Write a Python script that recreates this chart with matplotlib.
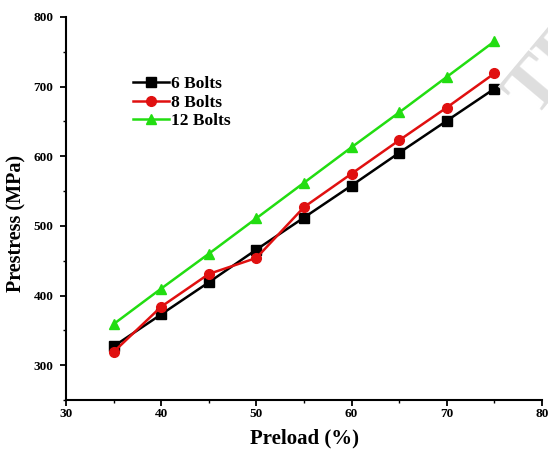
import numpy as np
import matplotlib
matplotlib.use("Agg")
import matplotlib.pyplot as plt
from matplotlib.ticker import MultipleLocator

preload = [35, 40, 45, 50, 55, 60, 65, 70, 75]
bolts6 = [327, 373, 419, 466, 512, 558, 605, 651, 697]
bolts8 = [319, 384, 431, 454, 527, 575, 623, 670, 719]
bolts12 = [359, 410, 460, 511, 562, 613, 663, 714, 765]

plt.rcParams["font.family"] = ["Liberation Serif", "DejaVu Serif"]
plt.rcParams["font.weight"] = "bold"

fig = plt.figure(figsize=(5.48, 4.54), dpi=100)
# axes box: left 66px, right 542px, top 17px, bottom 400px
ax = fig.add_axes([66 / 548, 1 - 400 / 454, 476 / 548, 383 / 454])

ax.plot(preload, bolts6, color="black", lw=1.8, marker="s", ms=6.5, label="6 Bolts")
ax.plot(preload, bolts8, color="#e01010", lw=1.8, marker="o", ms=7, label="8 Bolts")
ax.plot(preload, bolts12, color="#22dd11", lw=1.8, marker="^", ms=7.5, label="12 Bolts")

ax.set_xlim(30, 80)
ax.set_ylim(250, 800)
ax.xaxis.set_major_locator(MultipleLocator(10))
ax.xaxis.set_minor_locator(MultipleLocator(5))
ax.yaxis.set_minor_locator(MultipleLocator(50))
ax.set_yticks([300, 400, 500, 600, 700, 800])
ax.tick_params(which="major", direction="out", length=4, width=1.3, labelsize=9.5)
ax.tick_params(axis="x", which="major", pad=2)
ax.tick_params(axis="y", which="major", pad=5)
ax.tick_params(which="minor", direction="out", length=2.5, width=1.0)
for lab in ax.get_xticklabels() + ax.get_yticklabels():
    lab.set_fontweight("bold")

for side in ["top", "right"]:
    ax.spines[side].set_visible(False)
for side in ["left", "bottom"]:
    ax.spines[side].set_linewidth(1.5)

ax.set_xlabel("Preload (%)", fontsize=15, fontweight="bold", labelpad=6)
ax.set_ylabel("Prestress (MPa)", fontsize=14.5, fontweight="bold")
ax.yaxis.set_label_coords(-0.083, 0.46)

ax.legend(loc="upper left", bbox_to_anchor=(0.242, 0.833), bbox_transform=fig.transFigure,
          frameon=False, fontsize=12.5, handlelength=2.1, handletextpad=0.1,
          labelspacing=0.15, borderpad=0, borderaxespad=0)

# faint watermark fragment at the top-right edge
fig.text(1.01, 0.85, "TE", fontsize=54, color="#dedede", rotation=50,
         ha="center", va="center", fontweight="bold", zorder=0)

fig.savefig("out.png", dpi=100)
